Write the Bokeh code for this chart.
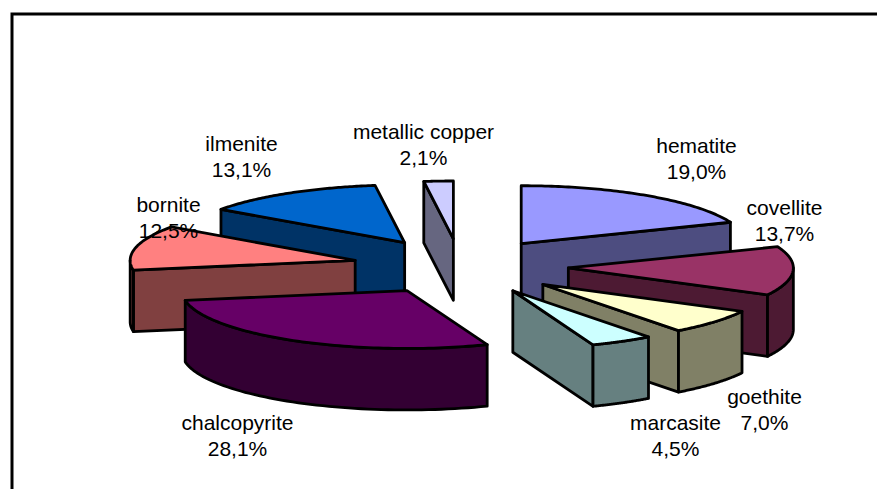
import math
import numpy as np
from bokeh.plotting import figure
from bokeh.embed import file_html
from bokeh.resources import INLINE
from bokeh.core.properties import value
from bokeh.models import Range1d

categories = ["hematite", "covellite", "goethite", "marcasite", "chalcopyrite", "bornite", "ilmenite", "metallic copper"]
shares = [19.0, 13.7, 7.0, 4.5, 28.1, 12.5, 13.1, 2.1]
share_labels = ["19,0%", "13,7%", "7,0%", "4,5%", "28,1%", "12,5%", "13,1%", "2,1%"]
top_colors = ["#9999FF", "#993366", "#FFFFCC", "#CCFFFF", "#660066", "#FF8080", "#0066CC", "#CCCCFF"]
side_colors = ["#4D4D80", "#4D1A33", "#808066", "#668080", "#330033", "#804040", "#003366", "#666680"]
label_x = [696, 784, 764, 675, 237, 168, 241, 423]
label_y = [145, 207, 396, 422, 422, 204, 143, 131]
draw_order = ["metallic copper", "hematite", "ilmenite", "covellite", "bornite", "goethite", "chalcopyrite", "marcasite"]

W, H = 877, 489
CX, CY, R, K, EXPLODE, DEPTH = 460, 266, 225, 0.257, 108, 61.5
LINE = 2.8
FONT = "Liberation Sans"
FS = "21px"

p = figure(width=W, height=H, output_backend="svg", toolbar_location=None,
           x_range=Range1d(0, W), y_range=Range1d(H, 0),
           min_border=0, outline_line_color=None, background_fill_color="white")
p.axis.visible = False
p.grid.visible = False


def pt(ax, ay, th, r=R):
    return ax + r * math.sin(th), ay - K * r * math.cos(th)


def face(xs, ys, color):
    p.patch(xs, ys, fill_color=color, line_color="black", line_width=LINE, line_join="round")


start = 0.0
geo = {}
for name, s in zip(categories, shares):
    a0 = math.radians(start * 3.6)
    a1 = math.radians((start + s) * 3.6)
    geo[name] = (a0, a1)
    start += s

for name in draw_order:
    i = categories.index(name)
    a0, a1 = geo[name]
    mid = (a0 + a1) / 2
    ax, ay = pt(CX, CY, mid, EXPLODE)
    # visible cut face
    if math.sin(a1) > 0:
        ex, ey = pt(ax, ay, a1)
        face([ax, ex, ex, ax], [ay, ey, ey + DEPTH, ay + DEPTH], side_colors[i])
    if math.sin(a0) < 0:
        ex, ey = pt(ax, ay, a0)
        face([ax, ex, ex, ax], [ay, ey, ey + DEPTH, ay + DEPTH], side_colors[i])
    # outer wall: front-facing part
    w0 = max(a0, math.pi / 2)
    w1 = min(a1, 3 * math.pi / 2)
    if w1 > w0:
        ts = np.linspace(w0, w1, 60)
        arc = [pt(ax, ay, t) for t in ts]
        xs = [q[0] for q in arc] + [q[0] for q in reversed(arc)]
        ys = [q[1] for q in arc] + [q[1] + DEPTH for q in reversed(arc)]
        face(xs, ys, side_colors[i])
    # top
    ts = np.linspace(a0, a1, 80)
    arc = [pt(ax, ay, t) for t in ts]
    face([ax] + [q[0] for q in arc], [ay] + [q[1] for q in arc], top_colors[i])

# labels
xs, ys, txt = [], [], []
for i, name in enumerate(categories):
    xs += [label_x[i], label_x[i]]
    ys += [label_y[i], label_y[i] + 26]
    txt += [name, share_labels[i]]
p.text(xs, ys, text=txt, text_font=value(FONT), text_font_size=value(FS), text_color="black",
       text_align="center", text_baseline="middle")

# frame: left and top edges only
FL, FT = 11.5, 13.5
p.line([FL, FL, W], [H, FT, FT], line_color="black", line_width=3, line_join="miter")

open("out.html", "w").write(file_html(p, INLINE))
